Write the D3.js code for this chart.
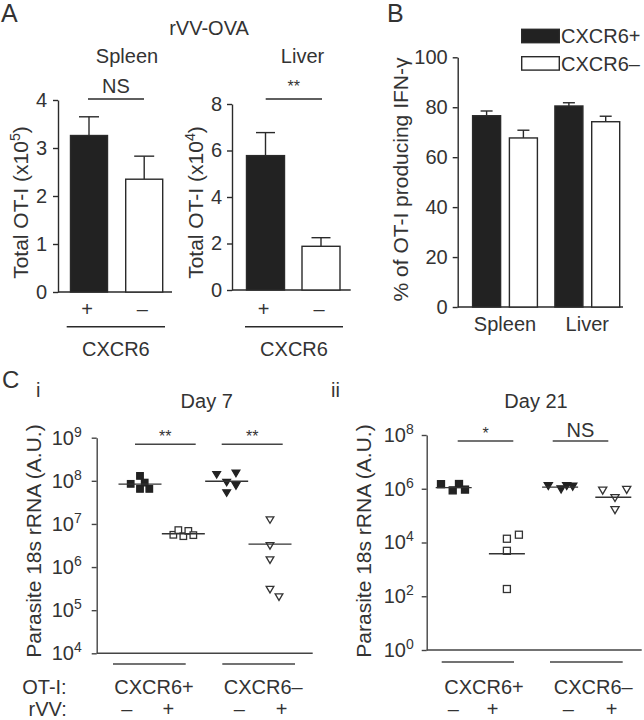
<!DOCTYPE html>
<html><head><meta charset="utf-8">
<script src="https://cdn.jsdelivr.net/npm/d3@7"></script>
<style>
body{margin:0;background:#fff}
svg{display:block}
text{font-family:"Liberation Sans",Arial,Helvetica,sans-serif;fill:#333}
</style>
</head><body>
<svg id="c" width="644" height="720"></svg>
<script>
// ---------- DATA ----------
const cxcr6Levels = ["+", "–"];
const spleenCounts = [3.26, 2.35];      // x10^5
const spleenSem = [0.39, 0.48];
const liverCounts = [5.78, 1.88];       // x10^4
const liverSem = [0.99, 0.37];
const spleenTicks = [0, 1, 2, 3, 4];
const liverTicks = [0, 2, 4, 6, 8];

const organs = ["Spleen", "Liver"];
const ifnSeries = ["CXCR6+", "CXCR6–"];
const ifnPos = [76.6, 80.5];
const ifnPosSem = [1.9, 1.3];
const ifnNeg = [67.7, 74.2];
const ifnNegSem = [3.1, 2.2];
const ifnTicks = [0, 20, 40, 60, 80, 100];

const cGroups = ["CXCR6+ rVV–", "CXCR6+ rVV+", "CXCR6– rVV–", "CXCR6– rVV+"];
const day7Values = [
  [8.5e7, 1.3e8, 9.1e7, 6.5e7, 6.5e7],
  [5.6e6, 7.2e6, 5.2e6, 6.9e6, 5.5e6],
  [1.38e8, 1.48e8, 9.1e7, 7.6e7, 5.2e7],
  [1.23e7, 3.1e6, 1.45e6, 2.0e5, 3.0e5]
];
const day7Lines = [8.4e7, 5.9e6, 9.8e7, 3.4e6];
const day7Exps = [4, 5, 6, 7, 8, 9];
const day21Values = [
  [1.48e6, 8.7e5, 1.5e6, 9.3e5],
  [1.38e4, 1.95e4, 4.9e3, 186],
  [1.26e6, 9.5e5, 1.26e6, 1.2e6],
  [8.5e5, 4.5e5, 9.1e5, 1.6e5]
];
const day21Lines = [1.1e6, 3.8e3, 1.15e6, 4.8e5];
const day21Exps = [0, 2, 4, 6, 8];
const otiLabels = ["CXCR6+", "CXCR6–"];
const rvvSigns = ["–", "+", "–", "+"];

// ---------- LAYOUT ----------
const svg = d3.select("#c");
const DARK = "#222", LINE = "#2a2a2a", CLINE = "#444";
const jitter7 = [[-9.3, 0, 4.7, 0, 9.3], [-10, -5, 0, 5, 10], [-10, 9.3, 0, 9.3, 0], [0, 0, 0, 9, 0]];
const jitter21 = [[-12.7, -1, 5.3, 11.3], [0, 12, 0, 0], [-11.8, 1, 6.6, 12.6], [-10.6, 1.7, 13.4, 1.7]];

function txt(x, y, s, size, anchor) {
  return svg.append("text").attr("x", x).attr("y", y).attr("font-size", size)
    .attr("text-anchor", anchor || "start").text(s);
}
function line(x1, y1, x2, y2, col, w) {
  svg.append("line").attr("x1", x1).attr("y1", y1).attr("x2", x2).attr("y2", y2)
    .attr("stroke", col || LINE).attr("stroke-width", w || 1.4);
}
function styleAxis(g, col, fs) {
  g.select(".domain").attr("stroke", col).attr("stroke-width", 1.4);
  g.selectAll(".tick line").attr("stroke", col).attr("stroke-width", 1.4);
  g.selectAll(".tick text").attr("font-size", fs).attr("fill", "#333")
    .attr("font-family", '"Liberation Sans",Arial,sans-serif');
}
function rotLabel(cx, cy, parts, size) {
  const t = svg.append("text").attr("transform", `translate(${cx},${cy}) rotate(-90)`)
    .attr("text-anchor", "middle").attr("dy", "0.35em").attr("font-size", size);
  parts.forEach(p => {
    const s = t.append("tspan").text(p.t);
    if (p.sup) s.attr("dy", -size * 0.4).attr("font-size", size * 0.68);
    if (p.after) s.attr("dy", size * 0.4);
  });
}

// ---------- PANEL A ----------
txt(1, 22, "A", 25);
txt(209, 35, "rVV-OVA", 20, "middle");

function barPanel(o) {
  const y = d3.scaleLinear().domain([0, d3.max(o.ticks)]).range([o.y0, o.yTop]);
  const x = d3.scalePoint().domain(cxcr6Levels).range(o.centers);
  const g = svg.append("g").attr("transform", `translate(${o.ax},0)`)
    .call(d3.axisLeft(y).tickValues(o.ticks).tickFormat(d3.format("d")).tickSize(5).tickSizeOuter(0).tickPadding(o.pad));
  styleAxis(g, LINE, 20);
  line(o.ax, o.y0, o.xEnd, o.y0);
  cxcr6Levels.forEach((k, i) => {
    const cx = x(k), v = o.vals[i], e = v + o.sem[i];
    line(cx, y(v), cx, y(e));
    line(cx - o.cap / 2, y(e), cx + o.cap / 2, y(e));
    svg.append("rect").attr("x", cx - o.bw / 2).attr("y", y(v)).attr("width", o.bw)
      .attr("height", o.y0 - y(v)).attr("fill", i === 0 ? DARK : "#fff")
      .attr("stroke", LINE).attr("stroke-width", 1.4);
    txt(cx - 2, 316, k, 20, "middle");
  });
  txt(o.title[1], 63, o.title[0], 20, "middle");
  line(o.sig[0], 99, o.sig[1], 99);
  txt((o.sig[0] + o.sig[1]) / 2, o.sigText === "NS" ? 93 : 92, o.sigText, o.sigText === "NS" ? 20 : 16, "middle");
  line(o.under[0], 326.7, o.under[1], 326.7);
  txt((o.under[0] + o.under[1]) / 2, 356, "CXCR6", 20, "middle");
  rotLabel(o.labX, 202.5, [{t: "Total OT-I (x10"}, {t: o.exp, sup: true}, {t: ")", after: true}], 21);
}
barPanel({ticks: spleenTicks, y0: 292, yTop: 100, centers: [89, 144.2], ax: 58, xEnd: 172, pad: 6,
  vals: spleenCounts, sem: spleenSem, bw: 37, cap: 20, title: ["Spleen", 127], sig: [88, 144], sigText: "NS",
  under: [66.7, 165], labX: 21, exp: "5"});
barPanel({ticks: liverTicks, y0: 290, yTop: 104, centers: [265.5, 321], ax: 232, xEnd: 350.7, pad: 5,
  vals: liverCounts, sem: liverSem, bw: 38, cap: 19, title: ["Liver", 302.5], sig: [265.7, 322], sigText: "**",
  under: [245, 343], labX: 196, exp: "4"});

// ---------- PANEL B ----------
txt(387, 22, "B", 25);
{
  const y = d3.scaleLinear().domain([0, 100]).range([307, 57.3]);
  const x = d3.scalePoint().domain(organs).range([505, 587.3]);
  const off = d3.scalePoint().domain(ifnSeries).range([-18.4, 18.4]);
  const g = svg.append("g").attr("transform", "translate(457.7,0)")
    .call(d3.axisLeft(y).tickValues(ifnTicks).tickSize(5).tickSizeOuter(0).tickPadding(5));
  styleAxis(g, LINE, 20);
  line(457.7, 307, 623, 307);
  const series = [[ifnPos, ifnPosSem], [ifnNeg, ifnNegSem]];
  organs.forEach((org, j) => {
    ifnSeries.forEach((s, i) => {
      const cx = x(org) + off(s), v = series[i][0][j], e = v + series[i][1][j];
      line(cx, y(v), cx, y(e));
      line(cx - 6, y(e), cx + 6, y(e));
      svg.append("rect").attr("x", cx - 14).attr("y", y(v)).attr("width", 28)
        .attr("height", 307 - y(v)).attr("fill", i === 0 ? DARK : "#fff")
        .attr("stroke", LINE).attr("stroke-width", 1.4);
    });
    txt(x(org), 331, org, 20, "middle");
  });
  ifnSeries.forEach((s, i) => {
    const ly = 29.3 + i * 27.4;
    svg.append("rect").attr("x", 521.7).attr("y", ly).attr("width", 37.6).attr("height", 13.4)
      .attr("fill", i === 0 ? DARK : "#fff").attr("stroke", LINE).attr("stroke-width", 1.4);
    txt(561, ly + 14, s, 20);
  });
  rotLabel(401, 179.5, [{t: "% of OT-I producing IFN-γ"}], 21);
}

// ---------- PANEL C ----------
txt(2, 388, "C", 24);
txt(36, 397, "i", 20);
txt(331, 397, "ii", 20);

function scatterPanel(o) {
  const y = d3.scaleLog().domain(o.domain).range([o.y0, o.yTop]);
  const x = d3.scalePoint().domain(cGroups).range(o.xr);
  const g = svg.append("g").attr("transform", `translate(${o.ax},0)`)
    .call(d3.axisLeft(y).tickValues(o.exps.map(e => Math.pow(10, e))).tickSize(5).tickSizeOuter(0).tickPadding(o.pad));
  styleAxis(g, CLINE, 20);
  g.selectAll(".tick text").each(function(d) {
    const t = d3.select(this).text("");
    t.append("tspan").text("10");
    t.append("tspan").text(Math.round(Math.log10(d))).attr("font-size", 14).attr("dy", -8);
  });
  line(o.ax, o.y0, o.xEnd, o.y0, CLINE);
  cGroups.forEach((grp, gi) => {
    const cx = x(grp);
    const filled = gi % 2 === 0, tri = gi >= 2;
    o.vals[gi].forEach((v, k) => {
      const px = cx + o.jit[gi][k], py = y(v);
      const s = o.ms;
      let p;
      if (!tri) {
        p = svg.append("rect").attr("x", px - s / 2).attr("y", py - s / 2).attr("width", s).attr("height", s);
      } else {
        const w = s + 1.2, h = s;
        p = svg.append("path").attr("d", `M${px - w / 2},${py - h / 2}L${px + w / 2},${py - h / 2}L${px},${py + h / 2}Z`);
      }
      p.attr("fill", filled ? DARK : "#fff").attr("stroke", filled ? DARK : "#333").attr("stroke-width", 1.3);
    });
    line(cx - o.lw / 2, y(o.lines[gi]), cx + o.lw / 2, y(o.lines[gi]), "#333", 1.4);
  });
  o.sigs.forEach(sg => {
    line(sg.x[0], sg.y, sg.x[1], sg.y, CLINE);
    txt((sg.x[0] + sg.x[1]) / 2, sg.ty, sg.t, sg.t === "NS" ? 20 : 16, "middle");
  });
  otiLabels.forEach((lab, i) => {
    const u = o.under[i];
    line(u[0], o.uy, u[1], o.uy, CLINE);
    txt(o.labCx[i], 694, lab, 20, "middle");
  });
  rvvSigns.forEach((s, i) => txt(o.signX[i], 716, s, 20, "middle"));
  txt(o.title[1], 408, o.title[0], 20, "middle");
  rotLabel(o.labX, 541, [{t: "Parasite 18s rRNA (A.U.)"}], 21);
}
scatterPanel({domain: [1e4, 1e9], y0: 653.3, yTop: 437.7, xr: [140, 270], ax: 96.7, xEnd: 312.7, pad: 10,
  exps: day7Exps, vals: day7Values, lines: day7Lines, jit: jitter7, ms: 6.5, lw: 43,
  sigs: [{x: [135, 195.7], y: 444.3, t: "**", ty: 442}, {x: [221.7, 282.7], y: 444.3, t: "**", ty: 442}],
  under: [[113, 185.7], [222.3, 295]], uy: 664, labCx: [154, 263.3], signX: [126.7, 168.3, 239.3, 281.7],
  title: ["Day 7", 206.7], labX: 34});
scatterPanel({domain: [1, 1e8], y0: 650, yTop: 435, xr: [453.7, 613.3], ax: 426.7, xEnd: 641.7, pad: 8,
  exps: day21Exps, vals: day21Values, lines: day21Lines, jit: jitter21, ms: 7, lw: 36,
  sigs: [{x: [457.7, 513.3], y: 441, t: "*", ty: 439}, {x: [552.7, 608.3], y: 441, t: "NS", ty: 436.5}],
  under: [[441.7, 514], [550, 622.7]], uy: 662, labCx: [484, 593.3], signX: [453.3, 492.7, 568.3, 611.7],
  title: ["Day 21", 536], labX: 364});
txt(66.7, 694, "OT-I:", 20, "end");
txt(66.7, 716, "rVV:", 20, "end");
</script>
</body></html>
